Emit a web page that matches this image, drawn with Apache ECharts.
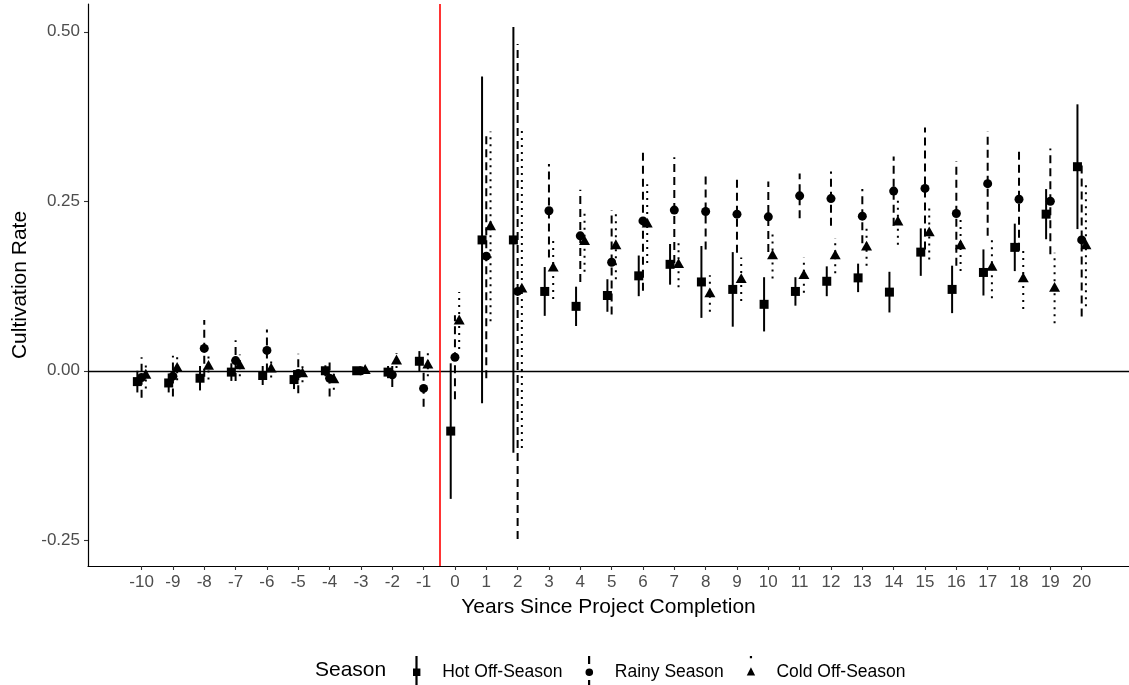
<!DOCTYPE html>
<html><head><meta charset="utf-8">
<script src="https://cdn.jsdelivr.net/npm/echarts@6/dist/echarts.min.js"></script>
<style>html,body{margin:0;padding:0;background:#fff}#c{width:1129px;height:685px}</style>
</head><body><div id="c"></div>
<script>
// ---- data ----
const years = [-10,-9,-8,-7,-6,-5,-4,-3,-2,-1,0,1,2,3,4,5,6,7,8,9,10,11,12,13,14,15,16,17,18,19,20];
const seasons = ['Hot Off-Season','Rainy Season','Cold Off-Season'];
const hotEst   = [-0.016,-0.018,-0.011,-0.002,-0.007,-0.013,0.000,0.000,-0.002,0.014,-0.089,0.193,0.193,0.117,0.095,0.111,0.140,0.157,0.131,0.120,0.098,0.117,0.132,0.137,0.116,0.175,0.120,0.145,0.182,0.231,0.301];
const hotCI    = [0.016,0.014,0.018,0.013,0.014,0.014,0.008,0.000,0.009,0.015,0.100,0.241,0.314,0.036,0.029,0.024,0.030,0.030,0.053,0.055,0.040,0.021,0.022,0.021,0.030,0.035,0.035,0.034,0.035,0.037,0.092];
const rainyEst = [-0.010,-0.008,0.033,0.015,0.030,-0.004,-0.011,0.000,-0.006,-0.026,0.020,0.169,0.117,0.236,0.199,0.160,0.221,0.237,0.235,0.231,0.227,0.258,0.254,0.228,0.265,0.269,0.232,0.276,0.253,0.250,0.193];
const rainyCI  = [0.030,0.030,0.042,0.030,0.031,0.029,0.027,0.000,0.018,0.027,0.062,0.180,0.365,0.069,0.068,0.077,0.103,0.078,0.056,0.057,0.052,0.033,0.040,0.040,0.051,0.090,0.077,0.077,0.076,0.078,0.113];
const coldEst  = [-0.006,0.004,0.007,0.008,0.003,-0.004,-0.013,0.001,0.015,0.009,0.074,0.213,0.121,0.152,0.191,0.185,0.217,0.157,0.114,0.135,0.170,0.141,0.170,0.183,0.220,0.204,0.185,0.153,0.136,0.122,0.185];
const coldCI   = [0.020,0.018,0.020,0.016,0.013,0.013,0.015,0.000,0.011,0.017,0.042,0.140,0.235,0.046,0.045,0.050,0.058,0.034,0.027,0.032,0.034,0.026,0.026,0.028,0.034,0.040,0.038,0.046,0.045,0.052,0.090];
const yTicks = [-0.25, 0, 0.25, 0.5];

// ---- chart ----
const FONT = '"Liberation Sans", Arial, Helvetica, sans-serif';
const chart = echarts.init(document.getElementById('c'), null, {renderer:'canvas'});
const DODGE = 0.135;

function rows(est, ci){ return years.map((y,i)=>[y, est[i], est[i]-ci[i], est[i]+ci[i]]); }
function markShape(kind, p){
  if (kind==='square') return {type:'rect', shape:{x:p[0]-4.5,y:p[1]-4.5,width:9,height:9}, style:{fill:'#000'}};
  if (kind==='circle') return {type:'circle', shape:{cx:p[0],cy:p[1],r:4.5}, style:{fill:'#000'}};
  return {type:'polygon', shape:{points:[[p[0],p[1]-6],[p[0]+5.5,p[1]+3.8],[p[0]-5.5,p[1]+3.8]]}, style:{fill:'#000'}};
}
function makeSeries(name, est, ci, off, dash, kind){
  return {
    name, type:'custom', data: rows(est, ci),
    itemStyle:{color:'#000'},
    encode:{x:0, y:[1,2,3]},
    renderItem(params, api){
      const x = api.value(0) + off;
      const p  = api.coord([x, api.value(1)]);
      const lo = api.coord([x, api.value(2)]);
      const hi = api.coord([x, api.value(3)]);
      const st = {stroke:'#000', lineWidth:2, lineCap:'butt'};
      if (dash) st.lineDash = dash;
      return {type:'group', children:[
        {type:'line', shape:{x1:p[0],y1:lo[1],x2:p[0],y2:hi[1]}, style:st},
        markShape(kind, p)
      ]};
    }
  };
}

const option = {
  animation:false,
  backgroundColor:'#fff',
  color:['#000','#000','#000','#000'],
  textStyle:{fontFamily:FONT},
  grid:{left:88, right:0, top:4, bottom:119, containLabel:false},
  title:{text:'Season', left:310, top:655, textStyle:{fontSize:21, fontWeight:'normal', color:'#000', fontFamily:FONT}},
  legend:{
    left:408, top:651, itemWidth:9, itemHeight:32, itemGap:23,
    itemStyle:{color:'#000'},
    textStyle:{fontSize:17.5, color:'#000', fontFamily:FONT, padding:[0,0,0,16]},
    data:[
      {name:seasons[0], icon:'path://M3.4,0h2.2v32h-2.2z M1,12.5h7.4v7.4h-7.4z', itemStyle:{color:'#000'}},
      {name:seasons[1], icon:'path://M3.4,0h2.2v8h-2.2z M3.4,24h2.2v8h-2.2z M8.5,16.2a3.8,3.8 0 1,1 -7.6,0a3.8,3.8 0 1,1 7.6,0z', itemStyle:{color:'#000'}},
      {name:seasons[2], icon:'path://M3.4,0h2.2v2.2h-2.2z M3.4,29.8h2.2v2.2h-2.2z M4.5,11.3L8.7,19.5L0.3,19.5z', itemStyle:{color:'#000'}}
    ]
  },
  xAxis:{
    type:'value', min:-11.71, max:21.51,
    name:'Years Since Project Completion', nameLocation:'middle', nameGap:31,
    nameTextStyle:{fontSize:21, color:'#000', fontFamily:FONT},
    splitLine:{show:false},
    axisLine:{show:true, onZero:false, lineStyle:{color:'#000', width:1.2}},
    axisTick:{show:true, customValues:years, length:4, lineStyle:{color:'#333', width:1.1}},
    axisLabel:{customValues:years, fontSize:17, color:'#4d4d4d', margin:8, fontFamily:FONT}
  },
  yAxis:{
    type:'value', min:-0.288, max:0.541,
    name:'Cultivation Rate', nameLocation:'middle', nameRotate:90, nameGap:41,
    nameTextStyle:{fontSize:21, color:'#000', fontFamily:FONT},
    splitLine:{show:false},
    axisLine:{show:true, onZero:false, lineStyle:{color:'#000', width:1.2}},
    axisTick:{show:true, customValues:yTicks, length:4, lineStyle:{color:'#333', width:1.1}},
    axisLabel:{customValues:yTicks, fontSize:17, color:'#4d4d4d', margin:8, fontFamily:FONT,
      formatter:(v)=>Number(v).toFixed(2)}
  },
  series:[
    {name:'ref', type:'line', data:[], silent:true,
      markLine:{silent:true, symbol:['none','none'], label:{show:false},
        data:[
          {yAxis:0, lineStyle:{color:'#000', width:1.4, type:'solid'}},
          {xAxis:-0.5, lineStyle:{color:'#ff0000', width:1.6, type:'solid'}}
        ]}},
    makeSeries(seasons[0], hotEst, hotCI, -DODGE, null, 'square'),
    makeSeries(seasons[1], rainyEst, rainyCI, 0, [8,5], 'circle'),
    makeSeries(seasons[2], coldEst, coldCI, DODGE, [2,5], 'triangle')
  ]
};
chart.setOption(option);
</script></body></html>
